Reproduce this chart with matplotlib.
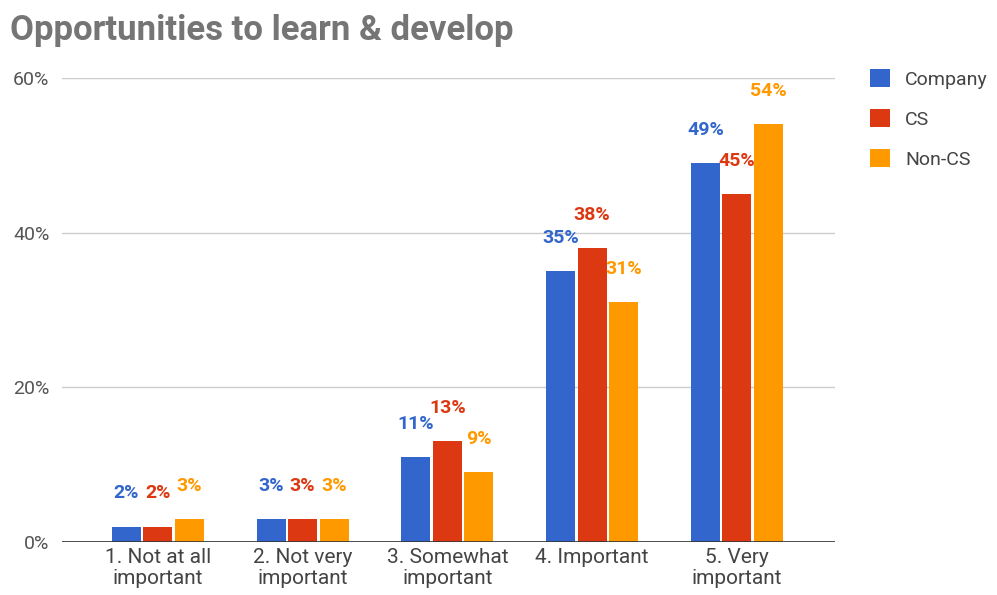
import matplotlib.pyplot as plt
import numpy as np

plt.rcParams['font.family'] = ['Roboto', 'DejaVu Sans']

categories = ['1. Not at all\nimportant', '2. Not very\nimportant', '3. Somewhat\nimportant',
              '4. Important', '5. Very\nimportant']
company = [2, 3, 11, 35, 49]
cs = [2, 3, 13, 38, 45]
non_cs = [3, 3, 9, 31, 54]

series = [('Company', company, '#3366cc'),
          ('CS', cs, '#dc3912'),
          ('Non-CS', non_cs, '#ff9900')]

fig = plt.figure(figsize=(9.97, 5.95), dpi=100)
ax = fig.add_axes([0.062, 0.089, 0.7755, 0.78])

x = np.arange(len(categories))
width = 0.2
step = 0.218

for i, (name, vals, color) in enumerate(series):
    pos = x + (i - 1) * step
    ax.bar(pos, vals, width, color=color, label=name, zorder=3)
    for px, v in zip(pos, vals):
        ax.annotate(f'{v}%', (px, v), xytext=(0, 24), textcoords='offset points',
                    ha='center', va='center', color=color, fontsize=14,
                    fontweight='bold')

ax.set_xlim(-0.663, 4.677)
ax.set_ylim(0, 60)
ax.set_yticks([0, 20, 40, 60])
ax.set_yticklabels(['0%', '20%', '40%', '60%'])
ax.set_xticks(x)
ax.set_xticklabels(categories, linespacing=1.15)

ax.grid(axis='y', color='#cccccc', linewidth=1, zorder=0)
ax.axhline(0, color='#333333', linewidth=1.2, zorder=4)
for s in ax.spines.values():
    s.set_visible(False)
ax.tick_params(axis='both', length=0, labelsize=15, labelcolor='#444444')
ax.tick_params(axis='y', labelsize=14, pad=9, labelcolor='#555555')
ax.tick_params(axis='x', pad=4)

fig.text(0.01, 0.948, 'Opportunities to learn & develop', fontsize=25,
         fontweight='bold', color='#757575', va='center', ha='left')

ax.legend(loc='upper left', bbox_to_anchor=(0.855, 0.913),
          bbox_transform=fig.transFigure, frameon=False, fontsize=14,
          handlelength=1.05, handleheight=1.05, labelspacing=1.05,
          handletextpad=0.75, labelcolor='#444444')

fig.savefig('out.png', dpi=100)
